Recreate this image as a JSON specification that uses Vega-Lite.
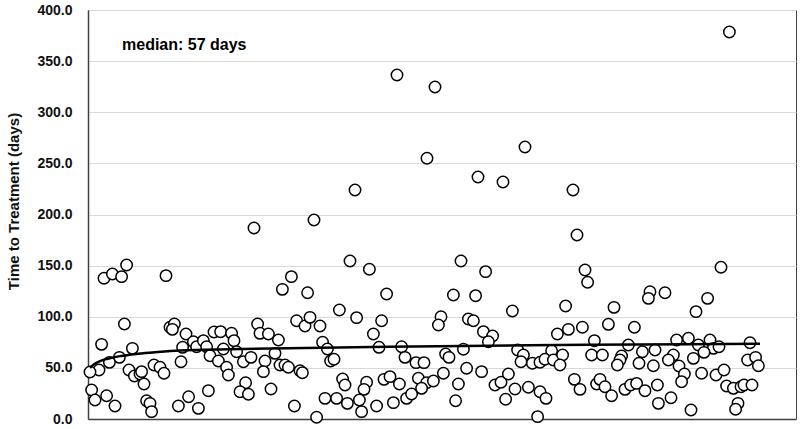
{
  "$schema": "https://vega.github.io/schema/vega-lite/v6.json",
  "width": 708,
  "height": 409,
  "autosize": {"type": "none"},
  "padding": {"left": 88, "top": 10, "right": 4, "bottom": 10},
  "background": "white",
  "config": {
    "view": {"stroke": "#404040", "strokeWidth": 1},
    "font": "Liberation Sans"
  },
  "datasets": {
    "pts": [
      {"x": 19.3, "y": 150.6}, {"x": 8, "y": 137.6}, {"x": 12.2, "y": 141.8}, {"x": 16.8, "y": 139.2}, {"x": 39, "y": 140.2},
      {"x": 18.2, "y": 92.9}, {"x": 41, "y": 89.7}, {"x": 43.2, "y": 92.9}, {"x": 42.2, "y": 87.7}, {"x": 49, "y": 83.1},
      {"x": 6.8, "y": 73}, {"x": 22.2, "y": 69.1}, {"x": 15.7, "y": 60.3}, {"x": 10.7, "y": 55.4}, {"x": 5.5, "y": 47.9},
      {"x": 1, "y": 46}, {"x": 20.5, "y": 47.9}, {"x": 23.2, "y": 42}, {"x": 26, "y": 44}, {"x": 26.8, "y": 46.3},
      {"x": 28, "y": 34.2}, {"x": 33, "y": 52.8}, {"x": 36, "y": 50.6}, {"x": 38, "y": 44.7}, {"x": 46.5, "y": 56},
      {"x": 47.3, "y": 70.1}, {"x": 52.7, "y": 75.6}, {"x": 54.3, "y": 70.7}, {"x": 1.8, "y": 28.4}, {"x": 3.5, "y": 18.6},
      {"x": 9.3, "y": 22.8}, {"x": 13.5, "y": 12.7}, {"x": 29.3, "y": 17.9}, {"x": 31, "y": 15.3}, {"x": 31.8, "y": 7.2},
      {"x": 45.2, "y": 12.7}, {"x": 50.3, "y": 21.8}, {"x": 55.2, "y": 10.4},
      {"x": 101.7, "y": 139.2}, {"x": 97.2, "y": 126.8}, {"x": 109.8, "y": 123.5}, {"x": 104.3, "y": 96.1}, {"x": 108.5, "y": 91},
      {"x": 111, "y": 99.4}, {"x": 84.8, "y": 92.9}, {"x": 86, "y": 83.8}, {"x": 90.2, "y": 83.1}, {"x": 95.2, "y": 77.3},
      {"x": 63, "y": 85.1}, {"x": 66.3, "y": 85.4}, {"x": 71.8, "y": 83.8}, {"x": 73, "y": 76.6}, {"x": 57.7, "y": 76.6},
      {"x": 59.3, "y": 70.7}, {"x": 67.7, "y": 68.5}, {"x": 61, "y": 61.9}, {"x": 65.2, "y": 56.7}, {"x": 69.3, "y": 50.6},
      {"x": 70.2, "y": 43}, {"x": 74.3, "y": 65.8}, {"x": 77.7, "y": 56}, {"x": 81.5, "y": 60.3}, {"x": 88.5, "y": 56.7},
      {"x": 87.7, "y": 46.3}, {"x": 93.5, "y": 64.2}, {"x": 96, "y": 52.8}, {"x": 98.5, "y": 52.8}, {"x": 100.2, "y": 50.6},
      {"x": 106, "y": 47.2}, {"x": 107.2, "y": 45.3}, {"x": 60.2, "y": 27.7}, {"x": 78.8, "y": 35.5}, {"x": 76, "y": 26.7},
      {"x": 80.2, "y": 24.2}, {"x": 91.5, "y": 29.3}, {"x": 103.2, "y": 12.7}, {"x": 114.3, "y": 1.7}, {"x": 83, "y": 186.8},
      {"x": 113, "y": 194.6},
      {"x": 131, "y": 154.5}, {"x": 140.7, "y": 146.4}, {"x": 149.3, "y": 122.2}, {"x": 125.7, "y": 106.6}, {"x": 134.3, "y": 99.1},
      {"x": 146.8, "y": 96.1}, {"x": 116, "y": 91}, {"x": 142.7, "y": 83.1}, {"x": 117.3, "y": 75}, {"x": 119.7, "y": 68.5},
      {"x": 145.5, "y": 70.1}, {"x": 156.8, "y": 70.7}, {"x": 121.3, "y": 56.7}, {"x": 123, "y": 58.4}, {"x": 158.5, "y": 60.3},
      {"x": 164, "y": 55.1}, {"x": 168, "y": 55.1}, {"x": 127.3, "y": 39.1}, {"x": 128.5, "y": 33.3}, {"x": 139.3, "y": 35.9},
      {"x": 138, "y": 29}, {"x": 148, "y": 38.8}, {"x": 151, "y": 41.4}, {"x": 155.7, "y": 34.2}, {"x": 165.2, "y": 39.8},
      {"x": 169.3, "y": 35.5}, {"x": 118.5, "y": 20.2}, {"x": 124.3, "y": 20.2}, {"x": 129.7, "y": 15.3}, {"x": 135.7, "y": 18.6},
      {"x": 136.8, "y": 7.2}, {"x": 144.3, "y": 12.7}, {"x": 152.7, "y": 16}, {"x": 159.3, "y": 20.2}, {"x": 161.8, "y": 24.4},
      {"x": 166.8, "y": 30}, {"x": 133.5, "y": 224}, {"x": 154.5, "y": 336.4}, {"x": 169.5, "y": 255}, {"x": 173.5, "y": 324.7},
      {"x": 186.5, "y": 154.5}, {"x": 198.8, "y": 144.1}, {"x": 182.7, "y": 121.3}, {"x": 193.8, "y": 120.6}, {"x": 212.2, "y": 105.6},
      {"x": 176.5, "y": 100}, {"x": 175.2, "y": 91.9}, {"x": 190.2, "y": 97.8}, {"x": 192.7, "y": 96.1}, {"x": 197.7, "y": 85.4},
      {"x": 202.3, "y": 81.2}, {"x": 200.2, "y": 75.6}, {"x": 187.7, "y": 68.2}, {"x": 178.8, "y": 63.6}, {"x": 180.5, "y": 60.3},
      {"x": 214.8, "y": 67.5}, {"x": 217.7, "y": 62.6}, {"x": 216.5, "y": 56}, {"x": 222.2, "y": 54.5}, {"x": 226, "y": 55.5},
      {"x": 189.3, "y": 49.6}, {"x": 196.8, "y": 46.3}, {"x": 177.7, "y": 44.7}, {"x": 172.7, "y": 37.2}, {"x": 185.2, "y": 34.2},
      {"x": 203.5, "y": 33.3}, {"x": 206.5, "y": 35.9}, {"x": 210.2, "y": 44}, {"x": 213.5, "y": 29.3}, {"x": 220.2, "y": 31},
      {"x": 226, "y": 26.7}, {"x": 208.8, "y": 19.3}, {"x": 183.8, "y": 17.9}, {"x": 224.8, "y": 2.3}, {"x": 195, "y": 236.7},
      {"x": 207.5, "y": 231.8}, {"x": 218.5, "y": 266},
      {"x": 248.5, "y": 145.7}, {"x": 249.8, "y": 133.7}, {"x": 281, "y": 124.5}, {"x": 280.2, "y": 118}, {"x": 238.8, "y": 110.5},
      {"x": 263, "y": 109.2}, {"x": 234.7, "y": 83.1}, {"x": 240.2, "y": 87.7}, {"x": 247.2, "y": 89.7}, {"x": 260.2, "y": 92.6},
      {"x": 273.2, "y": 89.7}, {"x": 253.2, "y": 76.6}, {"x": 270.2, "y": 72.4}, {"x": 231.8, "y": 66.8}, {"x": 228.5, "y": 58.4},
      {"x": 232.7, "y": 57.7}, {"x": 237.3, "y": 62.6}, {"x": 236, "y": 52.8}, {"x": 251.8, "y": 62.6}, {"x": 257.2, "y": 62.6},
      {"x": 266.8, "y": 61.6}, {"x": 266, "y": 57.7}, {"x": 264.7, "y": 52.8}, {"x": 277.2, "y": 65.8}, {"x": 283.5, "y": 67.5},
      {"x": 275.5, "y": 54.5}, {"x": 282.7, "y": 52.1}, {"x": 229, "y": 20.2}, {"x": 243.2, "y": 38.8}, {"x": 246, "y": 29},
      {"x": 254.3, "y": 34.2}, {"x": 256, "y": 38.8}, {"x": 258.5, "y": 31.6}, {"x": 261.8, "y": 22.8}, {"x": 268.5, "y": 29},
      {"x": 271.3, "y": 33.3}, {"x": 274.3, "y": 34.8}, {"x": 278.5, "y": 27.7}, {"x": 284.7, "y": 33.3}, {"x": 285.2, "y": 15.3},
      {"x": 242.5, "y": 224}, {"x": 244.5, "y": 180},
      {"x": 316.5, "y": 148.4}, {"x": 288.5, "y": 123.5}, {"x": 309.8, "y": 118}, {"x": 304, "y": 105}, {"x": 294.3, "y": 77.3},
      {"x": 300.2, "y": 78.9}, {"x": 305.2, "y": 72.4}, {"x": 311, "y": 77.3}, {"x": 312.7, "y": 69.1}, {"x": 315.5, "y": 70.7},
      {"x": 331, "y": 74.6}, {"x": 292.7, "y": 62.6}, {"x": 290.2, "y": 57.7}, {"x": 308, "y": 65.2}, {"x": 302.7, "y": 59.3},
      {"x": 295.5, "y": 51.8}, {"x": 329.8, "y": 57.7}, {"x": 333.8, "y": 60.3}, {"x": 335.2, "y": 52.1}, {"x": 298.2, "y": 44},
      {"x": 296.8, "y": 36.5}, {"x": 306.8, "y": 44.7}, {"x": 314, "y": 43}, {"x": 318, "y": 47.9}, {"x": 319.3, "y": 32.3},
      {"x": 322.7, "y": 30}, {"x": 326.5, "y": 31.6}, {"x": 328, "y": 33.3}, {"x": 332, "y": 33.3}, {"x": 291.5, "y": 20.8},
      {"x": 301.5, "y": 8.8}, {"x": 325, "y": 15.3}, {"x": 323.8, "y": 9.5}, {"x": 320.7, "y": 378.5}
    ],
    "trend": [
      {"x": 1, "y": 50}, {"x": 3, "y": 53.5}, {"x": 6, "y": 56.7}, {"x": 10, "y": 59}, {"x": 16, "y": 61.5},
      {"x": 25, "y": 63.8}, {"x": 35, "y": 65.5}, {"x": 46, "y": 67}, {"x": 70, "y": 68.3}, {"x": 100, "y": 69.2},
      {"x": 150, "y": 70.6}, {"x": 200, "y": 71.6}, {"x": 250, "y": 72.6}, {"x": 300, "y": 73.2}, {"x": 336, "y": 73.6}
    ],
    "note": [{"x": 17, "y": 365.8, "label": "median: 57 days"}]
  },
  "layer": [
    {
      "data": {"name": "pts"},
      "mark": {"type": "point", "shape": "circle", "filled": true, "fill": "white", "stroke": "black", "strokeWidth": 1.5, "size": 130, "opacity": 1},
      "encoding": {
        "x": {"field": "x", "type": "quantitative", "scale": {"domain": [0, 354], "nice": false, "zero": false},
              "axis": {"labels": false, "ticks": false, "grid": false, "title": null, "domainColor": "#404040", "domainWidth": 1.5}},
        "y": {"field": "y", "type": "quantitative", "scale": {"domain": [0, 400], "nice": false},
              "axis": {"values": [0, 50, 100, 150, 200, 250, 300, 350, 400], "format": ".1f", "ticks": false, "tickSize": 0,
                       "labelPadding": 16, "labelFont": "Liberation Sans", "labelFontSize": 14, "labelFontWeight": "bold", "labelColor": "#111",
                       "gridColor": "#d9d9d9", "gridWidth": 1, "domainColor": "#404040", "domainWidth": 1.5,
                       "title": "Time to Treatment (days)", "titleFont": "Liberation Sans", "titleFontSize": 15, "titleFontWeight": "bold",
                       "titleColor": "#111", "titleX": -75, "titleY": 191, "titleAngle": -90, "titleAlign": "center", "titleBaseline": "middle"}}
      }
    },
    {
      "data": {"name": "trend"},
      "mark": {"type": "line", "color": "black", "strokeWidth": 2.5, "interpolate": "monotone"},
      "encoding": {
        "x": {"field": "x", "type": "quantitative"},
        "y": {"field": "y", "type": "quantitative"}
      }
    },
    {
      "data": {"name": "note"},
      "mark": {"type": "text", "align": "left", "baseline": "middle", "font": "Liberation Sans", "fontSize": 16, "fontWeight": "bold", "color": "black"},
      "encoding": {
        "x": {"field": "x", "type": "quantitative"},
        "y": {"field": "y", "type": "quantitative"},
        "text": {"field": "label"}
      }
    }
  ]
}
